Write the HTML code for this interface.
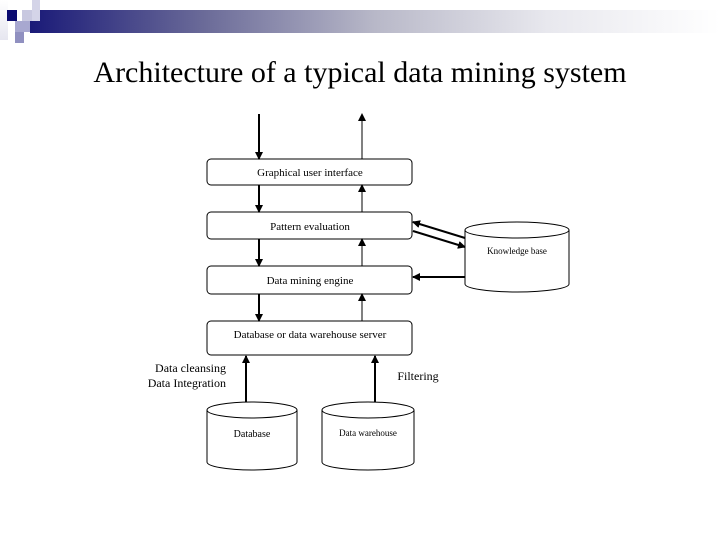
<!DOCTYPE html>
<html><head><style>
body{margin:0;width:720px;height:540px;background:#fff;position:relative;overflow:hidden;font-family:"Liberation Serif",serif}
.t{position:absolute;white-space:nowrap}
</style></head><body>
<div style="position:absolute;left:30px;top:10px;width:690px;height:23px;background:linear-gradient(to right,#1a1a78,#6a6a98 25%,#b8b8c8 50%,#e8e8ee 75%,#fff)"></div>
<div style="position:absolute;left:0;top:0;width:8px;height:40px;background:linear-gradient(#fff,#e6e6f0)"></div>
<div style="position:absolute;left:7px;top:10px;width:10px;height:11px;background:#0a0a70"></div>
<div style="position:absolute;left:22px;top:10px;width:10px;height:11px;background:#c8c8e0"></div>
<div style="position:absolute;left:32px;top:0;width:8px;height:21px;background:#d4d4e8"></div>
<div style="position:absolute;left:15px;top:21px;width:15px;height:11px;background:#a8a8d0"></div>
<div style="position:absolute;left:15px;top:32px;width:9px;height:11px;background:#9090c0"></div>
<div class="t" style="left:0;width:720px;text-align:center;top:56px;font-size:30px">Architecture of a typical data mining system</div>
<svg width="720" height="540" style="position:absolute;left:0;top:0" font-family="Liberation Serif,serif">
<defs><marker id="a" markerWidth="8" markerHeight="8" refX="7" refY="4" orient="auto" markerUnits="userSpaceOnUse"><path d="M0,0L8,4L0,8z" fill="#000"/></marker></defs>
<g fill="#fff" stroke="#000" stroke-width="1">
<rect x="207" y="159" width="205" height="26" rx="4"/>
<rect x="207" y="212" width="205" height="27" rx="4"/>
<rect x="207" y="266" width="205" height="28" rx="4"/>
<rect x="207" y="321" width="205" height="34" rx="4"/>
</g>
<g stroke="#000" fill="none">
<line x1="259" y1="114" x2="259" y2="159" stroke-width="2" marker-end="url(#a)"/>
<line x1="362" y1="159" x2="362" y2="114" marker-end="url(#a)"/>
<line x1="259" y1="185" x2="259" y2="212" stroke-width="2" marker-end="url(#a)"/>
<line x1="362" y1="212" x2="362" y2="185" marker-end="url(#a)"/>
<line x1="259" y1="239" x2="259" y2="266" stroke-width="2" marker-end="url(#a)"/>
<line x1="362" y1="266" x2="362" y2="239" marker-end="url(#a)"/>
<line x1="259" y1="294" x2="259" y2="321" stroke-width="2" marker-end="url(#a)"/>
<line x1="362" y1="321" x2="362" y2="294" marker-end="url(#a)"/>
<line x1="465" y1="238" x2="413" y2="222" stroke-width="2" marker-end="url(#a)"/>
<line x1="413" y1="231" x2="465" y2="247" stroke-width="2" marker-end="url(#a)"/>
<line x1="465" y1="277" x2="413" y2="277" stroke-width="2" marker-end="url(#a)"/>
<line x1="246" y1="402" x2="246" y2="356" stroke-width="2" marker-end="url(#a)"/>
<line x1="375" y1="402" x2="375" y2="356" stroke-width="2" marker-end="url(#a)"/>
</g>
<g fill="#fff" stroke="#000">
<path d="M465,230 L465,284 A52,8 0 0 0 569,284 L569,230"/>
<ellipse cx="517" cy="230" rx="52" ry="8"/>
<path d="M207,410 L207,462 A45,8 0 0 0 297,462 L297,410"/>
<ellipse cx="252" cy="410" rx="45" ry="8"/>
<path d="M322,410 L322,462 A46,8 0 0 0 414,462 L414,410"/>
<ellipse cx="368" cy="410" rx="46" ry="8"/>
</g>
<g font-size="11" text-anchor="middle">
<text x="310" y="176">Graphical user interface</text>
<text x="310" y="230">Pattern evaluation</text>
<text x="310" y="284">Data mining engine</text>
<text x="310" y="338">Database or data warehouse server</text>
<text x="517" y="254" font-size="9">Knowledge base</text>
<text x="252" y="437" font-size="10">Database</text>
<text x="368" y="436" font-size="9">Data warehouse</text>
<text x="418" y="380" font-size="12">Filtering</text>
</g>
<g font-size="12" text-anchor="end">
<text x="226" y="372">Data cleansing</text>
<text x="226" y="387">Data Integration</text>
</g>
</svg>
</body></html>
